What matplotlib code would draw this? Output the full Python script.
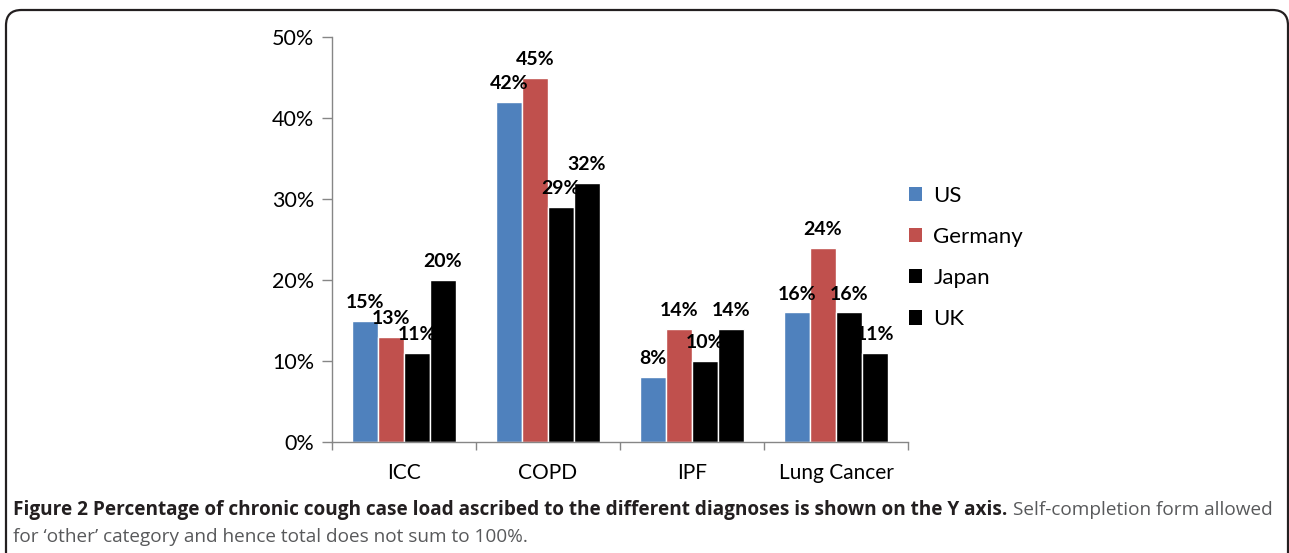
import matplotlib
matplotlib.use("Agg")
import matplotlib.pyplot as plt
from matplotlib.patches import FancyBboxPatch, Patch
from matplotlib.ticker import FixedLocator, FuncFormatter
import numpy as np

categories = ["ICC", "COPD", "IPF", "Lung Cancer"]
series_names = ["US", "Germany", "Japan", "UK"]
us = [15, 42, 8, 16]
germany = [13, 45, 14, 24]
japan = [11, 29, 10, 16]
uk = [20, 32, 14, 11]
yticks = [0, 10, 20, 30, 40, 50]
caption_bold = "Figure 2 Percentage of chronic cough case load ascribed to the different diagnoses is shown on the Y axis."
caption_reg1 = "Self-completion form allowed"
caption_reg2 = "for \u2018other\u2019 category and hence total does not sum to 100%."

colors = ["#4F81BD", "#C0504D", "#000000", "#000000"]
values = [us, germany, japan, uk]

W, H = 1289, 553
fig = plt.figure(figsize=(W / 100, H / 100), dpi=100)
plt.rcParams['font.family'] = ['Lato', 'DejaVu Sans']

# border
border = FancyBboxPatch((6 / W, -0.05), (1288 - 6) / W, (H - 10) / H + 0.05,
                        boxstyle="round,pad=0,rounding_size=0.012",
                        transform=fig.transFigure, facecolor="none",
                        edgecolor="#231F20", linewidth=1.6, mutation_aspect=W / H)
fig.patches.append(border)

ax = fig.add_axes([332 / W, 1 - 442 / H, (908 - 332) / W, (442 - 37) / H])
x = np.arange(len(categories))
bw = 0.18
for i, (vals, c, name) in enumerate(zip(values, colors, series_names)):
    pos = x + (i - 1.5) * bw
    ax.bar(pos, vals, width=bw, color=c, edgecolor="white", linewidth=1.0, label=name)
    for p, v in zip(pos, vals):
        ax.annotate(f"{v}%", (p, v), xytext=(0, 7), textcoords="offset points",
                    ha="center", va="bottom", fontsize=14, fontweight="bold", color="#000000")

ax.set_xlim(-0.5, len(categories) - 0.5)
ax.set_ylim(0, 50)
ax.set_yticks(yticks)
ax.yaxis.set_major_formatter(FuncFormatter(lambda v, p: f"{int(v)}%"))
ax.set_xticks(x)
ax.set_xticklabels(categories)
ax.xaxis.set_minor_locator(FixedLocator(np.arange(-0.5, len(categories), 1.0)))
ax.tick_params(axis="x", which="major", length=0, pad=15, labelsize=15)
ax.tick_params(axis="x", which="minor", length=6, width=1, color="#868686", direction="out")
ax.tick_params(axis="y", which="major", length=7, width=1, color="#868686", labelsize=15.5, pad=6)
for s in ["top", "right"]:
    ax.spines[s].set_visible(False)
for s in ["left", "bottom"]:
    ax.spines[s].set_color("#868686")
    ax.spines[s].set_linewidth(1.0)

handles = [Patch(facecolor=c, edgecolor="none") for c in colors]
fig.legend(handles, series_names, loc="upper left",
           bbox_to_anchor=(909 / W, 1 - 186 / H), frameon=False,
           fontsize=16, handlelength=0.6, handleheight=0.6, handletextpad=0.5,
           labelspacing=0.95, borderaxespad=0, borderpad=0)

# caption
fs = 13.7
cap_family = ["Open Sans", "DejaVu Sans"]
t1 = fig.text(13 / W, 1 - 515 / H, caption_bold, fontsize=fs, fontweight="bold",
              family=cap_family, color="#231F20", va="baseline", ha="left")
fig.canvas.draw()
r = fig.canvas.get_renderer()
bb = t1.get_window_extent(r)
t2 = fig.text((bb.x1 + 6) / W, 1 - 515 / H, caption_reg1, fontsize=fs,
              family=cap_family, color="#58595B", va="baseline", ha="left")
t3 = fig.text(13 / W, 1 - 542 / H, caption_reg2, fontsize=fs,
              family=cap_family, color="#58595B", va="baseline", ha="left")

fig.savefig("out.png", dpi=100)
